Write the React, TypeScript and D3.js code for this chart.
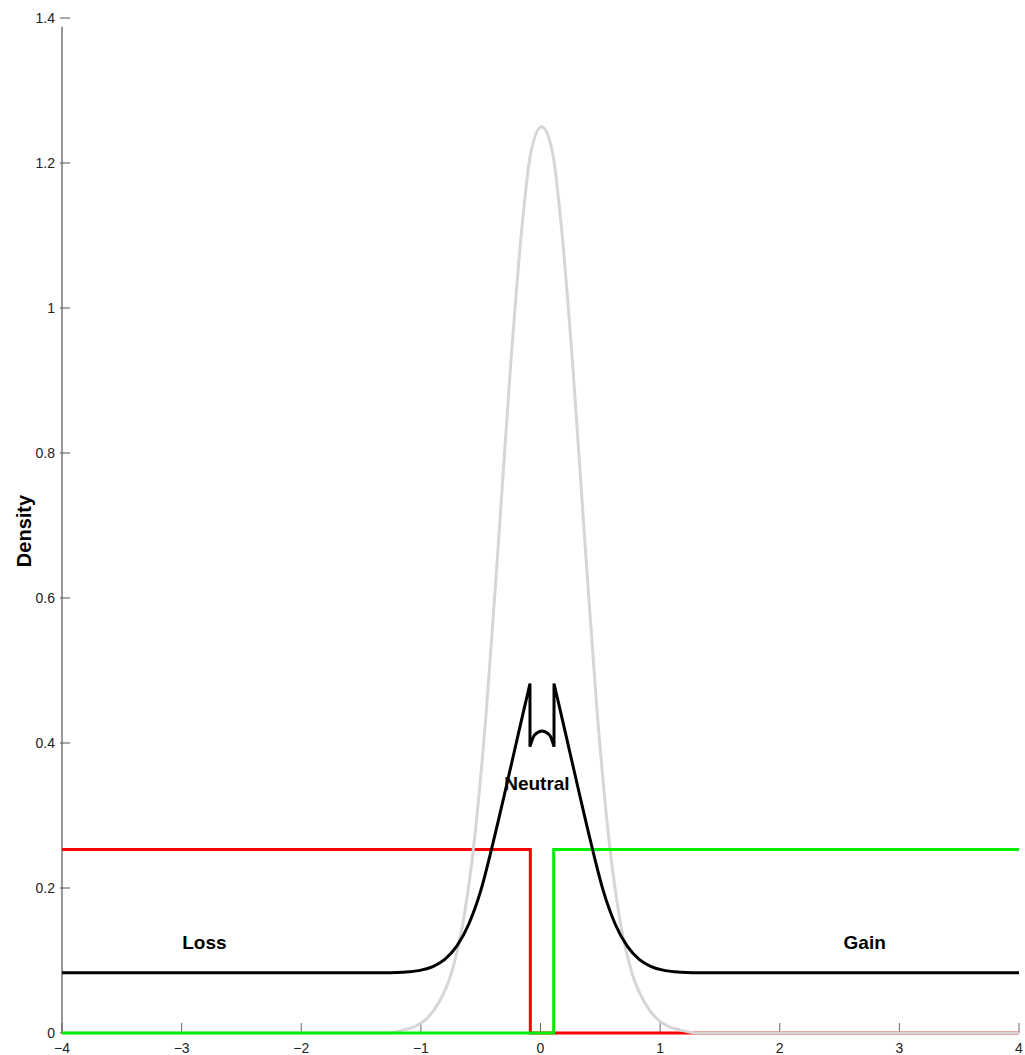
import React, { useEffect, useRef } from "react";
import * as d3 from "d3";

// tick labels
const xTicks = [-4, -3, -2, -1, 0, 1, 2, 3, 4];
const yTicks = [0, 0.2, 0.4, 0.6, 0.8, 1, 1.2, 1.4];

// gray density
const grayX = [-4, -1.3, -1.15, -1.05, -0.95, -0.85, -0.75, -0.65, -0.55, -0.45, -0.35, -0.25, -0.15, -0.08, 0.01, 0.1, 0.17, 0.27, 0.37, 0.47, 0.57, 0.67, 0.77, 0.87, 0.97, 1.07, 1.17, 1.32, 4];
const grayY = [0, 0, 0.004, 0.009, 0.02, 0.042, 0.08, 0.15, 0.27, 0.45, 0.68, 0.92, 1.12, 1.215, 1.25, 1.215, 1.12, 0.92, 0.68, 0.45, 0.27, 0.15, 0.08, 0.042, 0.02, 0.009, 0.004, 0, 0];

// black density: left arm, middle dip, right arm
const blackLeftX = [-4, -1.3, -1.2, -1.1, -1.0, -0.9, -0.8, -0.7, -0.6, -0.5, -0.4, -0.3, -0.2, -0.14, -0.088];
const blackLeftY = [0.083, 0.0832, 0.0835, 0.0845, 0.0867, 0.0916, 0.1015, 0.1197, 0.15, 0.196, 0.26, 0.33, 0.402, 0.445, 0.482];
const blackMidX = [-0.088, -0.05, 0.013, 0.076, 0.113];
const blackMidY = [0.395, 0.411, 0.4166, 0.411, 0.395];
const blackRightX = [0.113, 0.165, 0.225, 0.325, 0.425, 0.525, 0.625, 0.725, 0.825, 0.925, 1.025, 1.125, 1.225, 1.325, 4];
const blackRightY = [0.482, 0.445, 0.402, 0.33, 0.26, 0.196, 0.15, 0.1197, 0.1015, 0.0916, 0.0867, 0.0845, 0.0835, 0.0832, 0.083];

// step functions
const lossX = [-4, -0.085, 4];
const lossY = [0.253, 0, 0];
const gainX = [-4, 0.11, 4];
const gainY = [0, 0.253, 0.253];

const labels = [
  { text: "Loss", x: -2.81, y: 0.116 },
  { text: "Neutral", x: -0.03, y: 0.335 },
  { text: "Gain", x: 2.71, y: 0.116 },
];

const FONT = "'Liberation Sans', Arial, Helvetica, sans-serif";

const App = () => {
  const svgRef = useRef<SVGSVGElement>(null);

  useEffect(() => {
    const width = 1025;
    const height = 1055;

    const svg = d3.select(svgRef.current);
    svg.selectAll("*").remove();
    svg.attr("width", width).attr("height", height).style("background", "#fff");

    const xScale = d3.scaleLinear().domain([-4, 4]).range([62, 1019]);
    const yScale = d3.scaleLinear().domain([0, 1.4]).range([1033, 18]);

    const zip = (xs: number[], ys: number[]) => xs.map((x, i) => [x, ys[i]] as [number, number]);

    const smooth = d3
      .line<[number, number]>()
      .x((d) => xScale(d[0]))
      .y((d) => yScale(d[1]))
      .curve(d3.curveMonotoneX);

    const step = d3
      .line<[number, number]>()
      .x((d) => xScale(d[0]))
      .y((d) => yScale(d[1]))
      .curve(d3.curveStepAfter);

    // x axis line (light gray)
    svg
      .append("line")
      .attr("x1", xScale(-4))
      .attr("x2", xScale(4))
      .attr("y1", yScale(0))
      .attr("y2", yScale(0))
      .attr("stroke", "#cfcfcf")
      .attr("stroke-width", 1.5);

    // x ticks, pointing up
    svg
      .append("g")
      .selectAll("line")
      .data(xTicks)
      .enter()
      .append("line")
      .attr("x1", (d) => xScale(d))
      .attr("x2", (d) => xScale(d))
      .attr("y1", yScale(0))
      .attr("y2", yScale(0) - 10)
      .attr("stroke", "#666")
      .attr("stroke-width", 1);

    svg
      .append("g")
      .selectAll("text")
      .data(xTicks)
      .enter()
      .append("text")
      .attr("x", (d) => xScale(d))
      .attr("y", yScale(0) + 20)
      .attr("text-anchor", "middle")
      .attr("font-family", FONT)
      .attr("font-size", "14px")
      .attr("fill", "#222")
      .text((d) => (d < 0 ? "\u2212" + Math.abs(d) : String(d)));

    // y axis line
    svg
      .append("line")
      .attr("x1", xScale(-4))
      .attr("x2", xScale(-4))
      .attr("y1", yScale(1.388))
      .attr("y2", yScale(0))
      .attr("stroke", "#555")
      .attr("stroke-width", 1.2);

    svg
      .append("g")
      .selectAll("line")
      .data(yTicks)
      .enter()
      .append("line")
      .attr("x1", xScale(-4) - 2)
      .attr("x2", xScale(-4) + 8)
      .attr("y1", (d) => yScale(d))
      .attr("y2", (d) => yScale(d))
      .attr("stroke", "#555")
      .attr("stroke-width", 1);

    svg
      .append("g")
      .selectAll("text")
      .data(yTicks)
      .enter()
      .append("text")
      .attr("x", xScale(-4) - 7)
      .attr("y", (d) => yScale(d) + 5)
      .attr("text-anchor", "end")
      .attr("font-family", FONT)
      .attr("font-size", "14px")
      .attr("fill", "#222")
      .text((d) => String(d));

    // y label
    svg
      .append("text")
      .attr("transform", `translate(31, 531) rotate(-90)`)
      .attr("text-anchor", "middle")
      .attr("font-family", FONT)
      .attr("font-size", "20px")
      .attr("font-weight", "bold")
      .attr("fill", "#000")
      .text("Density");

    // red (loss) step
    svg
      .append("path")
      .attr("d", step(zip(lossX, lossY)))
      .attr("fill", "none")
      .attr("stroke", "#ff0000")
      .attr("stroke-width", 3);

    // gray density
    svg
      .append("path")
      .attr("d", smooth(zip(grayX, grayY)))
      .attr("fill", "none")
      .attr("stroke", "#d6d6d6")
      .attr("stroke-width", 3);

    // green (gain) step
    svg
      .append("path")
      .attr("d", step(zip(gainX, gainY)))
      .attr("fill", "none")
      .attr("stroke", "#00ee00")
      .attr("stroke-width", 3);

    // black density, joined into one path so the dip keeps its corners
    const blackPath = [
      zip(blackLeftX, blackLeftY),
      zip(blackMidX, blackMidY),
      zip(blackRightX, blackRightY),
    ]
      .map((seg, i) => {
        const p = smooth(seg) || "";
        return i === 0 ? p : "L" + p.slice(1);
      })
      .join("");

    svg
      .append("path")
      .attr("d", blackPath)
      .attr("fill", "none")
      .attr("stroke", "#000")
      .attr("stroke-width", 3)
      .attr("stroke-linejoin", "miter")
      .attr("stroke-miterlimit", 4);

    // region labels
    svg
      .append("g")
      .selectAll("text")
      .data(labels)
      .enter()
      .append("text")
      .attr("x", (d) => xScale(d.x))
      .attr("y", (d) => yScale(d.y))
      .attr("text-anchor", "middle")
      .attr("font-family", FONT)
      .attr("font-size", "19px")
      .attr("font-weight", "bold")
      .attr("fill", "#000")
      .text((d) => d.text);
  }, []);

  return (
    <svg
      ref={svgRef}
      style={{ position: "absolute", left: 0, top: 0, display: "block" }}
    ></svg>
  );
};

export default App;
